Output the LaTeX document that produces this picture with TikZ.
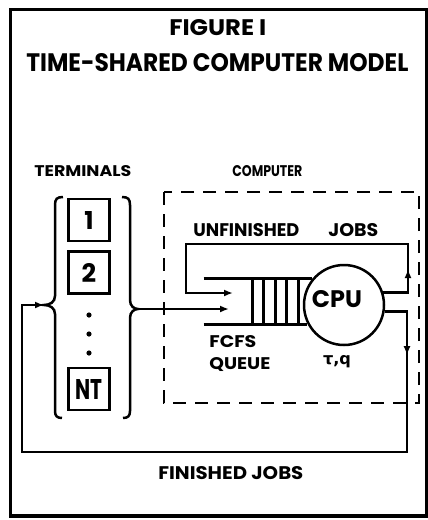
\documentclass[tikz,border=0pt]{standalone}
\usepackage{fontspec}
\setmainfont{Poppins}
\newfontfamily\dejavu{DejaVu Sans}
\usepackage{graphicx}
\usetikzlibrary{arrows.meta,decorations.markings}
\newcommand{\fx}[3]{\resizebox{#1pt}{#2pt}{\bfseries #3}}
\tikzset{
  lbl/.style={inner sep=0pt, anchor=base west},
  term/.style={draw, line width=2.5pt, minimum width=41pt, minimum height=42pt, inner sep=0pt},
  dashbox/.style={line width=2.5pt, dash pattern=on 13pt off 9pt},
  tip/.style={-{Latex[length=9pt,width=7pt]}},
  midup/.style={postaction={decorate}, decoration={markings, mark=at position #1 with {\arrow{Latex[length=9pt,width=7pt]}}}}
}
\begin{document}
\begin{tikzpicture}[x=1pt,y=-1pt,line width=2.7pt]
\useasboundingbox (0,0) rectangle (428,520);
% outer frame
\draw[line width=3.4pt] (10.5,9.5) rectangle (426.5,516);
% titles
\node[lbl] (t1) at (168,35) {\fx{97}{16}{FIGURE I}};
\node[lbl] (t2) at (25,71) {\fx{382}{18}{TIME-SHARED COMPUTER MODEL}};
\node[lbl] (tt) at (33,176) {\fx{97}{11}{TERMINALS}};
\node[lbl] (tc) at (231,176) {\fx{70}{11}{COMPUTER}};
\node[lbl] (tu) at (192,236) {\fx{106}{13}{UNFINISHED}};
\node[lbl] (tj) at (327,236) {\fx{50}{13}{JOBS}};
\node[lbl] (tf) at (208,347) {\fx{47}{12}{FCFS}};
\node[lbl] (tq) at (208,369) {\fx{61}{12}{QUEUE}};
\node[lbl] (tfin) at (157,479) {\fx{145}{13}{FINISHED JOBS}};
\node[inner sep=0pt] (tau) at (337,362) {\resizebox{28pt}{!}{\dejavu\bfseries τ,q}};
% terminals
\node[term] (b1) at (89,220) {\resizebox{!}{18pt}{\bfseries 1}};
\node[term] (b2) at (89,272.5) {\resizebox{!}{19pt}{\bfseries 2}};
\node[term] (bn) at (89,389) {\resizebox{27pt}{20pt}{\bfseries NT}};
\foreach \dy/\nm in {315/d1,334/d2,353/d3}
  \fill (89,\dy) circle (2.6pt);
% brackets
\coordinate (ltip) at (44,305);
\coordinate (rtip) at (138,309);
\draw[line width=2.5pt] (63,197) .. controls (57,197) and (55,199) .. (55,205) -- (55,296)
  .. controls (55,302) and (50,305) .. (ltip)
  .. controls (50,305) and (55,308) .. (55,314) -- (55,411)
  .. controls (55,416) and (57,418) .. (62,418);
\draw[line width=2.5pt] (122,197) .. controls (128,197) and (130,199) .. (130,205) -- (130,300)
  .. controls (130,306) and (134,309) .. (rtip)
  .. controls (134,309) and (130,312) .. (130,318) -- (130,411)
  .. controls (130,416) and (128,418) .. (123,418);
% computer dashed box
\draw[dashbox] (164,192) rectangle (419,403);
% cpu and queue
\node[draw, circle, line width=2.5pt, minimum size=80pt, inner sep=0pt] (cpu) at (344,305) {};
\node[lbl, anchor=base] (cputxt) at (337,307) {\fx{50}{17}{CPU}};
\node[minimum width=96pt, minimum height=43pt, inner sep=0pt] (q) at (253,301.5) {};
\draw[line width=2.5pt] (q.north west) -- (q.north west -| cpu.141);
\draw[line width=2.5pt] (q.south west) -- (q.south west -| cpu.207);
\foreach \bx in {49,60,72,83,95}
  \draw[line width=2.5pt] ([xshift=\bx pt]q.north west) -- ([xshift=\bx pt]q.south west);
% connectors
\coordinate (ur) at (408,244);
\coordinate (ul) at (186,293);
\coordinate (qin1) at (233,293);
\coordinate (qin2) at (229,309);
\coordinate (fr) at (407,452);
\coordinate (fl) at (22,305);
\draw[tip, midup=48pt] (cpu.18) -| (ur) -| (ul) -- (qin1);
\draw[tip] (rtip) -- (qin2);
\draw[tip, midup=66pt] (cpu.-9) -| (fr) -| (fl) -- (ltip);
\end{tikzpicture}
\end{document}
